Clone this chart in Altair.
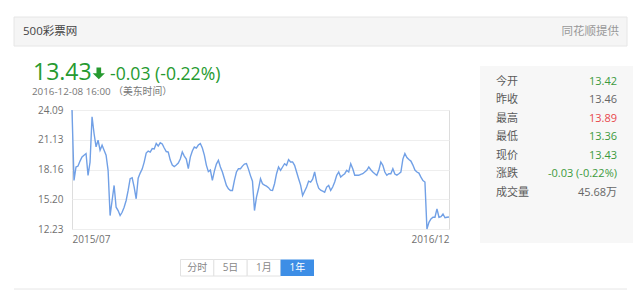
import altair as alt
import pandas as pd

# ---- data ----
prices = [
    24.09, 17.07, 18.41, 18.5, 19.0, 19.41, 19.58, 19.75, 17.58, 18.9,
    23.42, 21.75, 20.42, 21.08, 20.08, 20.58, 20.08, 19.58, 18.08, 13.57,
    15.07, 16.57, 14.40, 14.07, 13.57, 13.90, 14.40, 15.07, 16.07, 17.24,
    17.34, 16.41, 15.24, 17.3, 17.8, 18.2, 18.9, 19.8, 20.0, 19.9,
    20.25, 20.2, 20.75, 20.5, 20.82, 20.7, 20.3, 19.95, 19.9, 19.1,
    18.6, 18.45, 18.6, 18.8, 19.2, 19.9, 19.5, 19.2, 18.24, 19.4,
    20.0, 20.4, 20.3, 20.6, 20.75, 20.3, 19.6, 18.6, 17.95, 18.1,
    17.07, 18.0, 18.7, 19.08, 18.41, 17.91, 17.24, 16.57, 16.24, 16.07,
    16.07, 17.07, 17.91, 18.24,
    18.24, 18.5, 18.7, 18.75, 18.2, 17.55, 17.0, 14.07, 15.4, 16.24,
    17.24, 16.74, 16.6, 16.5, 16.35, 16.1, 16.07, 16.74, 17.74, 18.41,
    18.08, 18.41, 18.74, 18.58, 19.15, 18.91, 18.91, 18.58, 17.91, 17.24,
    16.6, 15.57, 16.0, 16.41, 17.0, 16.91, 17.2, 17.91, 16.9, 16.3,
    16.1, 16.0, 15.90, 16.41, 16.57, 16.07, 16.41, 16.91, 17.58, 17.91,
    17.41, 17.58, 17.74, 18.08, 17.91, 18.74, 18.24, 17.58, 17.58, 17.58,
    17.68, 17.74, 17.91, 18.08, 18.41, 18.14, 17.91, 17.74, 17.58, 18.08,
    18.91, 18.58, 17.91, 17.58, 17.74, 17.74, 18.24, 17.7, 17.6, 17.74,
    17.9, 19.2, 19.75, 19.35, 19.15, 19.0, 18.6, 18.1, 17.91, 17.8,
    17.4, 17.05, 16.91, 12.23, 12.9, 13.23, 13.40, 13.40, 14.23, 13.40,
    13.47, 13.73, 13.35, 13.40, 13.43,
]
y_ticks = [12.23, 15.20, 18.16, 21.13, 24.09]
x_labels = ["2015/07", "2016/12"]

source_left = "500彩票网"
source_right = "同花顺提供"
last_price = "13.43"
change_text = "-0.03 (-0.22%)"
time_text = "2016-12-08 16:00 （美东时间）"

quote_labels = ["今开", "昨收", "最高", "最低", "现价", "涨跌", "成交量"]
quote_values = ["13.42", "13.46", "13.89", "13.36", "13.43", "-0.03 (-0.22%)", "45.68万"]
quote_colors = ["#3c9a3c", "#666666", "#e8474c", "#3c9a3c", "#3c9a3c", "#3c9a3c", "#666666"]
buttons = ["分时", "5日", "1月", "1年"]
active_button = "1年"

# ---- layout ----
FONT = "Open Sans, Noto Sans CJK SC, sans-serif"
OX, OY = 72, 110          # plot-area origin in the page
W, H = 377, 119           # plot-area size
GREEN = "#269a30"

N = len(prices)
df = pd.DataFrame({"i": list(range(N)), "price": prices})
one = pd.DataFrame({"k": [0]})

label_expr = "datum.value == 0 ? '%s' : '%s'" % (x_labels[0], x_labels[1])

line = alt.Chart(df).mark_line(color="#71a0e6", strokeWidth=1.4).encode(
    x=alt.X("i:Q", scale=alt.Scale(domain=[0, N - 1], nice=False, zero=False),
            axis=alt.Axis(values=[0, N - 1], labelExpr=label_expr, labelFlush=True,
                          grid=False, domain=False, ticks=False, title=None,
                          labelColor="#707070", labelFontSize=10, labelFont=FONT,
                          labelPadding=5)),
    y=alt.Y("price:Q", scale=alt.Scale(domain=[12.23, 24.09], nice=False, zero=False),
            axis=alt.Axis(values=y_ticks, format=".2f", grid=True, gridColor="#eeeeee",
                          gridWidth=1, domain=False, ticks=False, title=None,
                          labelColor="#707070", labelFontSize=10, labelFont=FONT,
                          labelPadding=9)),
)


def txt(s, x, y, size, color, align="left", baseline="middle", weight="normal"):
    return alt.Chart(one).mark_text(
        text=s, align=align, baseline=baseline, fontSize=size, color=color,
        font=FONT, fontWeight=weight,
    ).encode(x=alt.value(x - OX), y=alt.value(y - OY))


def box(x1, y1, x2, y2, fill, stroke=None):
    kw = dict(fill=fill)
    if stroke:
        kw.update(stroke=stroke, strokeWidth=1)
    return alt.Chart(one).mark_rect(**kw).encode(
        x=alt.value(x1 - OX), x2=alt.value(x2 - OX),
        y=alt.value(y1 - OY), y2=alt.value(y2 - OY))


layers = []
# header bar
layers.append(box(14, 17, 627, 46, "#f5f5f5", "#e6e6e6"))
layers.append(txt(source_left, 23, 32, 11.5, "#444444"))
layers.append(txt(source_right, 619, 32, 11.5, "#999999", align="right"))

# price block
layers.append(txt(last_price, 33, 80, 23, GREEN, baseline="alphabetic"))
arrow = "M-0.38,-1L0.38,-1L0.38,-0.05L1,-0.05L0,0.92L-1,-0.05L-0.38,-0.05Z"
layers.append(alt.Chart(one).mark_point(shape=arrow, filled=True, size=150,
                                         color=GREEN, opacity=1, strokeWidth=0)
              .encode(x=alt.value(98.8 - OX), y=alt.value(73.5 - OY)))
layers.append(txt(change_text, 110, 79.5, 17.6, GREEN, baseline="alphabetic"))
layers.append(txt(time_text, 32, 92, 9.8, "#777777"))

# quote panel
layers.append(box(480, 66, 633, 243, "#f7f7f7"))
for k, (lab, val, col) in enumerate(zip(quote_labels, quote_values, quote_colors)):
    yy = 81.7 + 18.5 * k
    layers.append(txt(lab, 496, yy, 11, "#5a5a5a"))
    layers.append(txt(val, 617, yy, 11, col, align="right"))

# period buttons
bx = [180.5, 213.8, 247.2, 280.6]
for k, b in enumerate(buttons):
    x1, x2 = bx[k], bx[k] + 33.4
    if b == active_button:
        layers.append(box(x1, 259.5, x2, 276, "#3d8ee6"))
        layers.append(txt(b, (x1 + x2) / 2, 268, 10, "#ffffff", align="center"))
    else:
        layers.append(box(x1, 259.5, x2, 276, "#ffffff", "#e2e2e2"))
        layers.append(txt(b, (x1 + x2) / 2, 268, 10, "#888888", align="center"))

# bottom divider
layers.append(alt.Chart(one).mark_rule(color="#e6e6e6", strokeWidth=1).encode(
    x=alt.value(14 - OX), x2=alt.value(627 - OX), y=alt.value(289 - OY)))

chart = alt.layer(line, *layers).properties(
    width=W, height=H,
    padding={"left": OX, "top": OY, "right": 640 - OX - W, "bottom": 294 - OY - H},
    autosize="none",
).configure_view(stroke=None).configure(background="#ffffff")

chart.save("out.html", embed_options={"renderer": "svg", "actions": False})
